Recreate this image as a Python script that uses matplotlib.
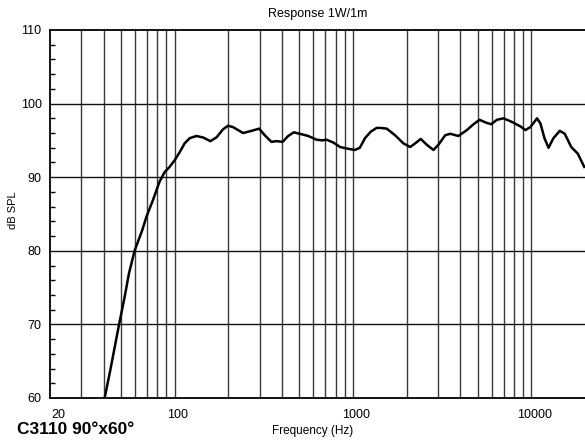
import numpy as np
import matplotlib
matplotlib.use("Agg")
import matplotlib.pyplot as plt
import matplotlib.transforms as mtransforms
from matplotlib.ticker import FixedLocator, MultipleLocator, NullFormatter

plt.rcParams["font.family"] = ["Liberation Sans", "DejaVu Sans"]

# ---- data ----
freq_hz = [40.5, 43.5, 48.7, 52.4, 55.4, 59.6, 65.8, 69.4, 75.6, 82.3, 87.9,
           93.7, 100, 106.7, 113.8, 121.4, 132.4, 144.3, 158.6, 171.5, 186.7,
           199.4, 212.7, 242, 270, 297.7, 320, 349, 373, 403, 433, 466, 503,
           561, 624, 673, 710, 777, 847, 923, 1025, 1093, 1167, 1260, 1358,
           1418, 1546, 1722, 1917, 2092, 2233, 2398, 2594, 2826, 3013, 3289,
           3510, 3896, 4349, 4744, 5123, 5586, 5962, 6417, 6984, 7799, 8690,
           9271, 9871, 10768, 11250, 11850, 12490, 13300, 14440, 15400,
           16750, 18220, 19800]
spl_db = [60.0, 63.7, 69.9, 73.7, 76.9, 80.0, 82.8, 84.6, 86.9, 89.4, 90.7,
          91.4, 92.3, 93.4, 94.6, 95.3, 95.6, 95.4, 94.9, 95.4, 96.5,
          97.0, 96.8, 96.0, 96.3, 96.6, 95.7, 94.8, 94.9, 94.8, 95.6, 96.1,
          95.9, 95.6, 95.1, 95.0, 95.1, 94.7, 94.1, 93.9, 93.7, 94.0, 95.3,
          96.2, 96.7, 96.7, 96.6, 95.7, 94.6, 94.1, 94.6, 95.2, 94.4, 93.7,
          94.4, 95.7, 95.9, 95.6, 96.4, 97.2, 97.8, 97.4, 97.2, 97.8, 98.0,
          97.5, 96.9, 96.4, 96.8, 98.0, 97.3, 95.3, 94.0, 95.3, 96.3, 95.9,
          94.1, 93.2, 91.4]

x_ticks = [20, 100, 1000, 10000]
x_tick_labels = ["20", "100", "1000", "10000"]
y_ticks = [60, 70, 80, 90, 100, 110]

# vertical grid at every 1-2-3...-9 step per decade
grid_freqs = [m * 10 ** d for d in range(1, 5) for m in range(1, 10)]
grid_freqs = [f for f in grid_freqs if 20 < f < 20000]

fig = plt.figure(figsize=(5.85, 4.41), dpi=100)
ax = fig.add_axes([50 / 585, 1 - 398 / 441, 535 / 585, 368 / 441])

ax.set_xscale("log")
ax.set_xlim(20, 20000)
ax.set_ylim(60, 110)

for f in grid_freqs:
    ax.axvline(f, color="#3a3a3a", lw=1.0, zorder=1)
for y in y_ticks[1:-1]:
    ax.axhline(y, color="#111111", lw=1.0, zorder=1)

ax.plot(freq_hz, spl_db, color="black", lw=1.8, zorder=3,
        solid_joinstyle="round")

# ticks
ax.xaxis.set_major_locator(FixedLocator(x_ticks))
ax.set_xticklabels(x_tick_labels)
ax.xaxis.set_minor_locator(FixedLocator([]))
ax.xaxis.set_minor_formatter(NullFormatter())
ax.tick_params(axis="x", which="major", length=0, pad=8, labelsize=9)
ax.yaxis.set_major_locator(FixedLocator(y_ticks))
ax.yaxis.set_minor_locator(MultipleLocator(2))
ax.tick_params(axis="y", which="major", length=0, pad=6, labelsize=9)
ax.tick_params(axis="y", which="minor", direction="in", length=3.5, width=1)

# nudge x tick labels a little to the right, the first one more
for i, lab in enumerate(ax.get_xticklabels()):
    dx = 8 / 72 if i == 0 else 3 / 72
    lab.set_transform(lab.get_transform() +
                      mtransforms.ScaledTranslation(dx * 0.72, 0, fig.dpi_scale_trans))

for side in ["left", "bottom", "top"]:
    ax.spines[side].set_linewidth(1.3)
    ax.spines[side].set_color("black")
ax.spines["right"].set_visible(False)

fig.text(318 / 585, 1 - 14 / 441, "Response 1W/1m", fontsize=9,
         ha="center", va="center")
fig.text(13 / 585, 1 - 210 / 441, "dB SPL", fontsize=8, rotation=90,
         ha="center", va="center")
fig.text(313 / 585, 1 - 431 / 441, "Frequency (Hz)", fontsize=8.5,
         ha="center", va="center")
fig.text(17 / 585, 1 - 430 / 441, "C3110 90°x60°", fontsize=12.5,
         fontweight="bold", ha="left", va="center")

fig.savefig("out.png", dpi=100)
